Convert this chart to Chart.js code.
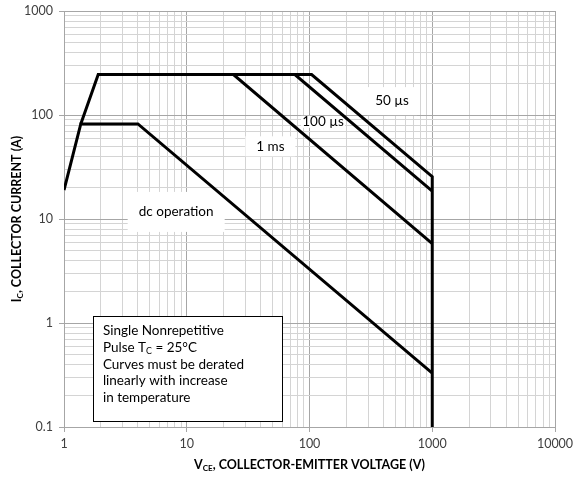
<!DOCTYPE html>
<html>
<head>
<meta charset="utf-8">
<script src="https://cdn.jsdelivr.net/npm/chart.js@4.4.0/dist/chart.umd.min.js"></script>
<style>
html, body { margin: 0; padding: 0; background: #fff; }
#wrap { width: 574px; height: 478px; }
</style>
</head>
<body>
<div id="wrap"><canvas id="soa" width="574" height="478"></canvas></div>
<script>
// safe operating area curves
const vceDc = [1, 1.37, 4, 1000]
const icDc = [19, 82, 82, 0.33]
const vce1ms = [1.37, 1.9, 24, 1000]
const ic1ms = [82, 245, 245, 5.8]
const vce100us = [24, 76, 1000]
const ic100us = [245, 245, 18.5]
const vce50us = [76, 104, 1000, 1000]
const ic50us = [245, 245, 25.5, 0.1]

const xTicks = [1, 10, 100, 1000, 10000]
const yTicks = [0.1, 1, 10, 100, 1000]

const FONT = 'Lato, "Open Sans", sans-serif'

function isDecade(v) {
    let l = Math.log10(v)
    return Math.abs(l - Math.round(l)) < 1e-6
}

// 1..9 per decade so every minor gridline shows
function logTicks(list) {
    let t = []
    for (let i = 0; i < list.length - 1; i++) {
        for (let m = 1; m < 10; m++) t.push({value: +(m * list[i]).toPrecision(3)})
    }
    t.push({value: list[list.length - 1]})
    return t
}

function pts(xs, ys) {
    return xs.map((x, i) => ({x: x, y: ys[i]}))
}

// text with subscript pieces: [[text, isSub], ...]
function richWidth(ctx, parts, size, weight) {
    let w = 0
    for (let p of parts) {
        ctx.font = `${weight} ${p[1] ? size * 0.65 : size}px ${FONT}`
        w += ctx.measureText(p[0]).width
    }
    return w
}
function drawRich(ctx, parts, x, y, size, weight) {
    for (let p of parts) {
        ctx.font = `${weight} ${p[1] ? size * 0.65 : size}px ${FONT}`
        ctx.fillText(p[0], x, p[1] ? y + size * 0.25 : y)
        x += ctx.measureText(p[0]).width
    }
}

const lineStyle = {
    borderColor: '#000',
    borderWidth: 3,
    pointRadius: 0,
    fill: false,
    tension: 0
}

const curveText = {
    id: 'curveText',
    beforeDatasetsDraw(chart) {
        const {ctx, scales: {x, y}} = chart
        const labels = [
            {t: '50 µs', x: 470, y: 136, w: 50, h: 28},
            {t: '100 µs', x: 129, y: 86, w: 44, h: 12},
            {t: '1 ms', x: 48, y: 50, w: 50, h: 20},
            {t: 'dc operation', x: 8.2, y: 11.7, w: 97, h: 40}
        ]
        ctx.save()
        ctx.font = `13.5px ${FONT}`
        ctx.textAlign = 'center'
        ctx.textBaseline = 'middle'
        for (let l of labels) {
            let px = x.getPixelForValue(l.x), py = y.getPixelForValue(l.y)
            ctx.fillStyle = '#fff'
            ctx.fillRect(px - l.w / 2, py - l.h / 2, l.w, l.h)
            ctx.fillStyle = '#000'
            ctx.fillText(l.t, px, py)
        }
        ctx.restore()
    },
    afterDraw(chart) {
        const {ctx, chartArea: a, scales: {x, y}} = chart
        ctx.save()
        // note box
        let bx = x.getPixelForValue(1.72), by = y.getPixelForValue(1.17)
        let bw = x.getPixelForValue(60) - bx, bh = y.getPixelForValue(0.114) - by
        ctx.fillStyle = '#fff'
        ctx.fillRect(bx, by, bw, bh)
        ctx.strokeStyle = '#000'
        ctx.lineWidth = 1
        ctx.strokeRect(Math.round(bx) + 0.5, Math.round(by) + 0.5, Math.round(bw), Math.round(bh))
        ctx.fillStyle = '#000'
        ctx.textBaseline = 'middle'
        ctx.textAlign = 'left'
        const note = [
            [['Single Nonrepetitive', false]],
            [['Pulse T', false], ['C', true], [' = 25°C', false]],
            [['Curves must be derated', false]],
            [['linearly with increase', false]],
            [['in temperature', false]]
        ]
        note.forEach((parts, i) => drawRich(ctx, parts, bx + 10, by + 15 + i * 16.7, 13.5, 'normal'))

        // axis titles
        const xt = [['V', false], ['CE', true], [', COLLECTOR-EMITTER VOLTAGE (V)', false]]
        let w = richWidth(ctx, xt, 12.5, 'bold')
        drawRich(ctx, xt, (a.left + a.right) / 2 - w / 2, 465, 12.5, 'bold')

        const yt = [['I', false], ['C', true], [', COLLECTOR CURRENT (A)', false]]
        w = richWidth(ctx, yt, 12.5, 'bold')
        ctx.translate(17, (a.top + a.bottom) / 2)
        ctx.rotate(-Math.PI / 2)
        drawRich(ctx, yt, -w / 2, 0, 12.5, 'bold')
        ctx.restore()
    }
}

function axis(min, max, ticks, isX) {
    return {
        type: 'logarithmic',
        min: min,
        max: max,
        afterBuildTicks: s => { s.ticks = logTicks(ticks) },
        afterFit: s => {
            if (isX) s.height = 51
            else s.width = 64
            s.paddingLeft = 0
            s.paddingRight = 0
            s.paddingTop = 0
            s.paddingBottom = 0
        },
        border: {color: '#a6a6a6', width: 1},
        grid: {
            color: c => isDecade(c.tick.value) ? '#a6a6a6' : '#d4d4d4',
            tickColor: c => isDecade(c.tick.value) ? '#a6a6a6' : 'rgba(0,0,0,0)',
            tickLength: 5,
            lineWidth: 1
        },
        ticks: {
            autoSkip: false,
            maxRotation: 0,
            padding: isX ? 4 : 6,
            color: '#404040',
            font: {family: FONT, size: 12.5},
            callback: v => isDecade(v) ? String(v) : ''
        }
    }
}

const soaChart = new Chart(document.getElementById('soa'), {
    type: 'line',
    data: {
        datasets: [
            Object.assign({label: 'dc', data: pts(vceDc, icDc)}, lineStyle),
            Object.assign({label: '1 ms', data: pts(vce1ms, ic1ms)}, lineStyle),
            Object.assign({label: '100 us', data: pts(vce100us, ic100us)}, lineStyle),
            Object.assign({label: '50 us', data: pts(vce50us, ic50us)}, lineStyle)
        ]
    },
    options: {
        responsive: false,
        animation: false,
        devicePixelRatio: 1,
        layout: {padding: {top: 11, right: 19, left: 0, bottom: 0}},
        plugins: {legend: {display: false}, tooltip: {enabled: false}},
        scales: {
            x: axis(1, 10000, xTicks, true),
            y: axis(0.1, 1000, yTicks, false)
        }
    },
    plugins: [curveText]
})
</script>
</body>
</html>
